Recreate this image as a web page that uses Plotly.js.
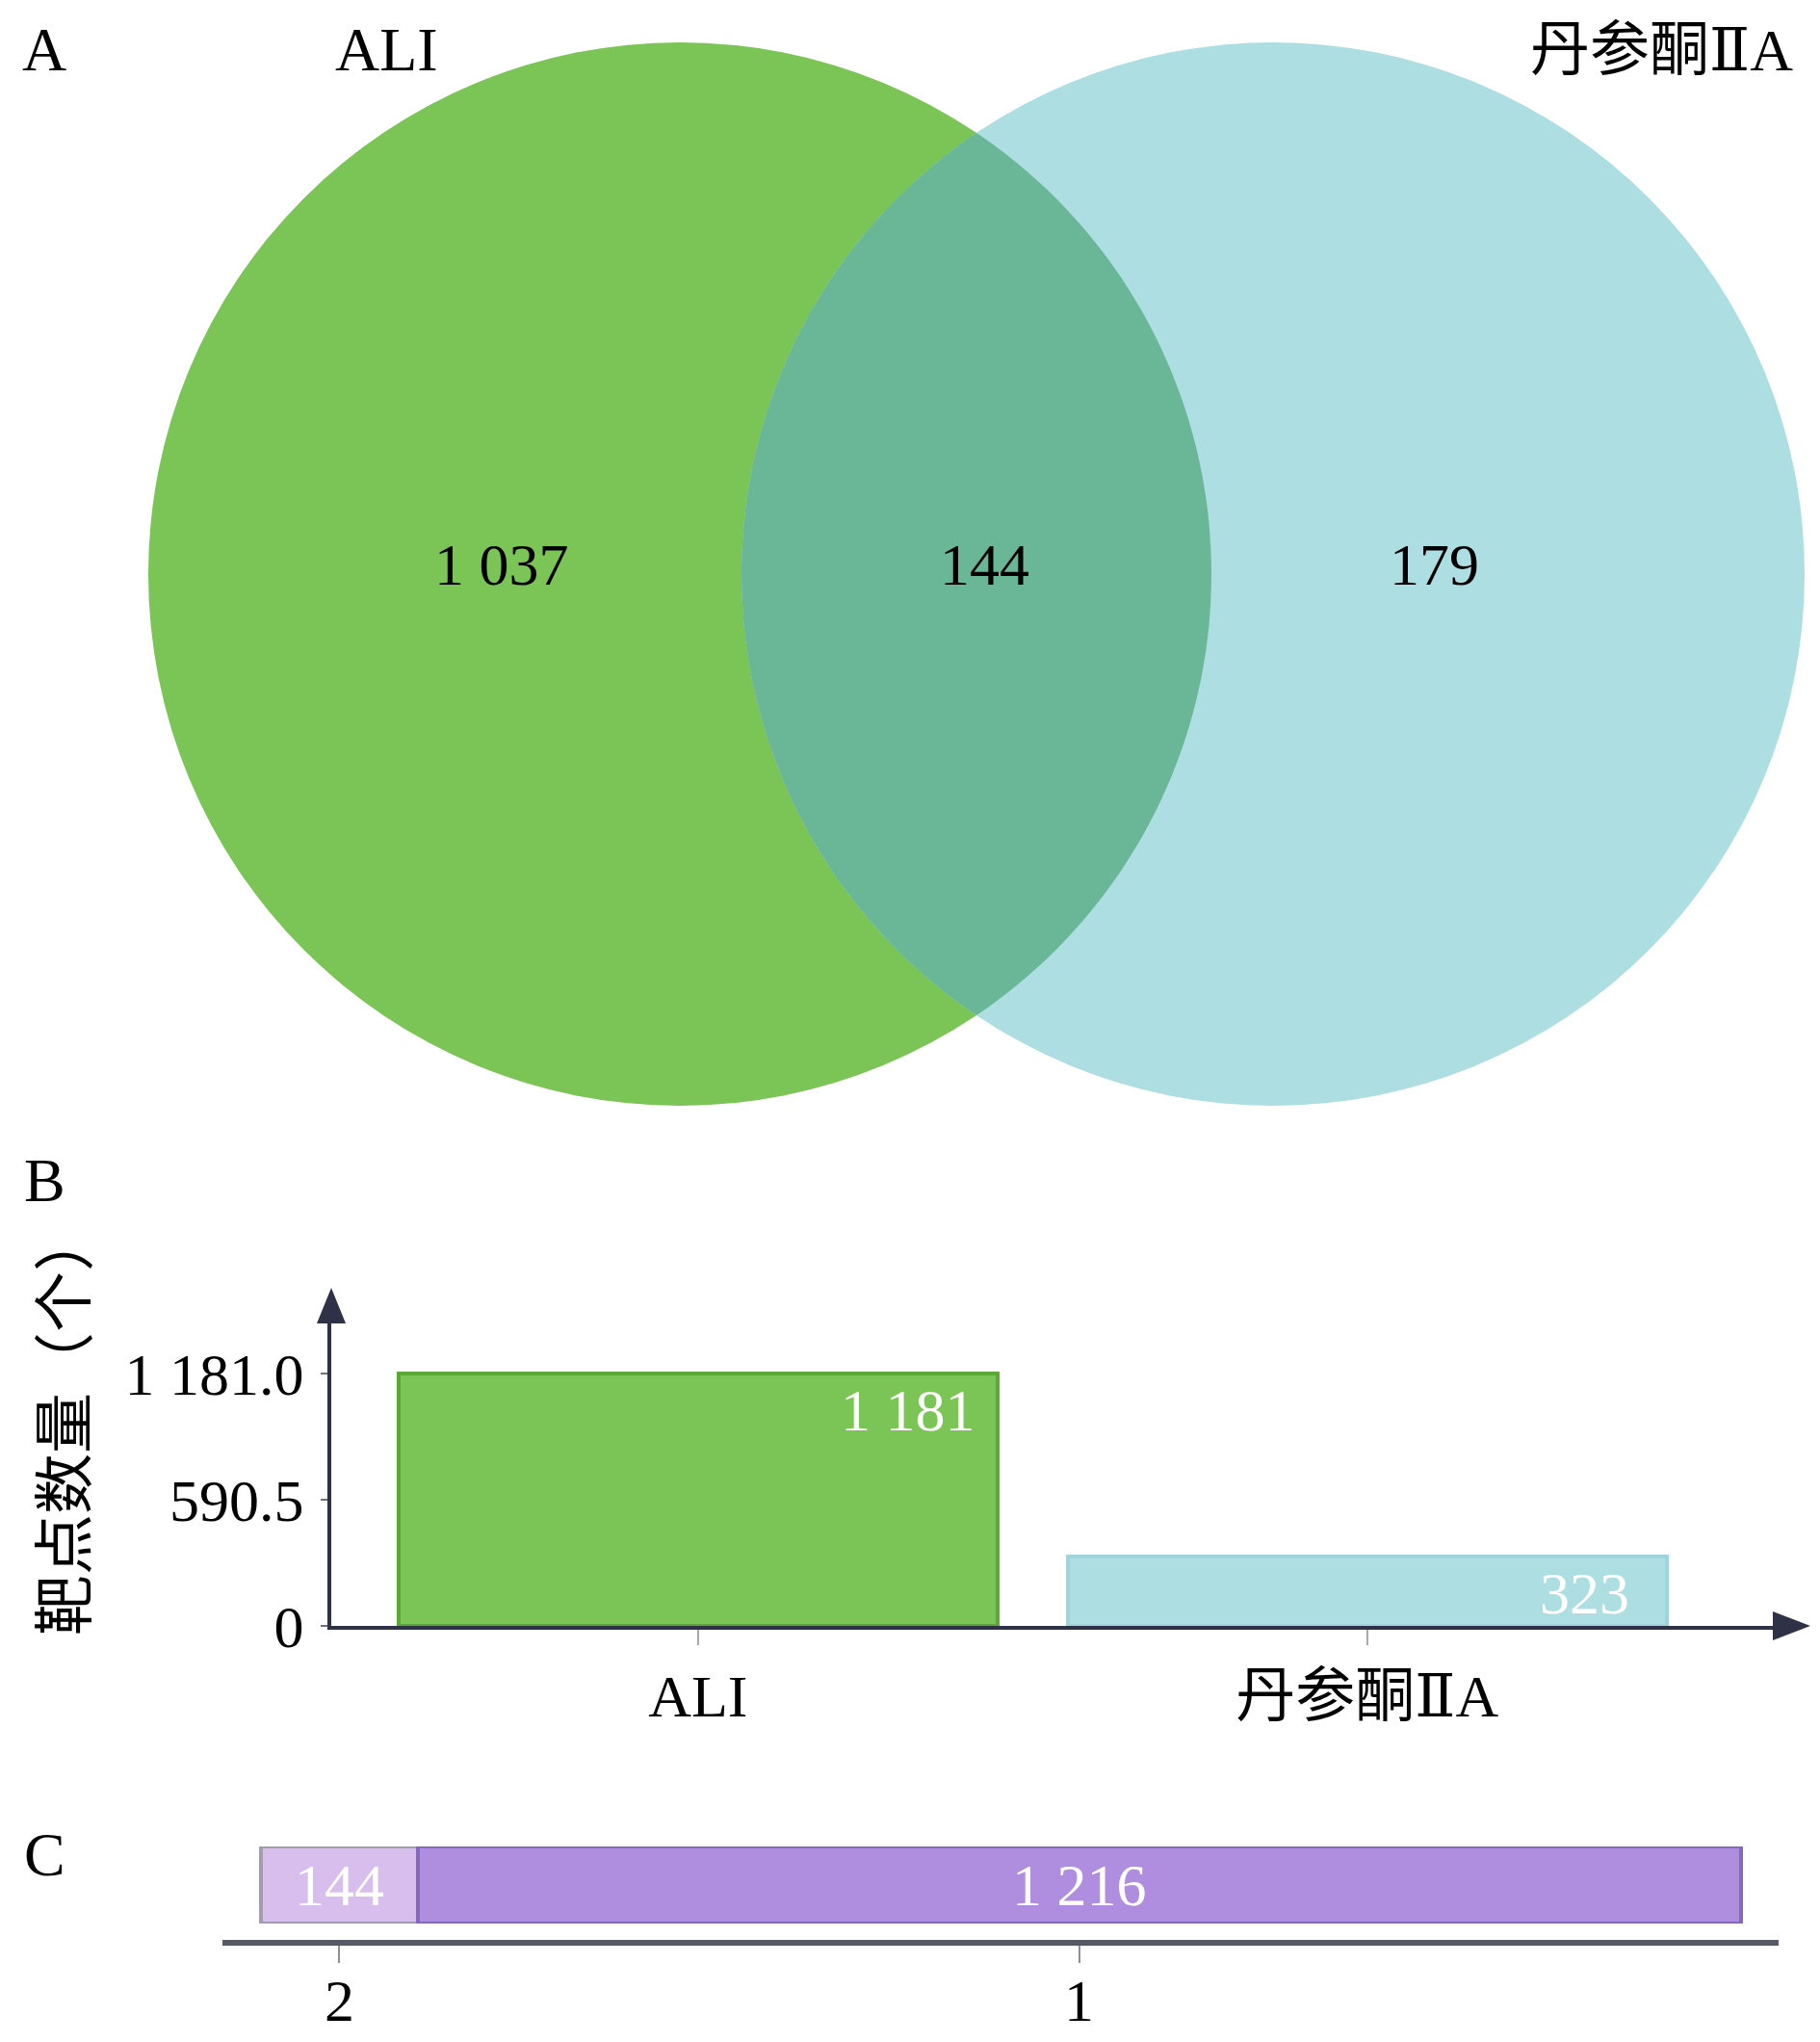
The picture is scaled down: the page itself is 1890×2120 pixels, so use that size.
<!DOCTYPE html>
<html>
<head>
<meta charset="utf-8">
<script src="https://cdn.plot.ly/plotly-3.0.1.min.js"></script>
<style>html,body{margin:0;padding:0;background:#fff;}#chart{width:1890px;height:2120px;}</style>
</head>
<body>
<div id="chart"></div>
<script>
// ---------- DATA ----------
var setNames = ['ALI', '丹参酮ⅡA'];
var vennCounts = [1037, 144, 179];          // ALI only, intersection, 丹参酮ⅡA only
var setTotals = [1181, 323];                // 靶点数量（个）
var yTickVals = [0, 590.5, 1181];
var yTickText = ['0', '590.5', '1 181.0'];
var yTitle = '靶点数量（个）';
var intersectionDegree = ['2', '1'];
var intersectionCounts = [144, 1216];
var panelLetters = ['A', 'B', 'C'];

// ---------- HELPERS ----------
var W = 1890, H = 2120;
function px(x) { return x / W; }
function py(y) { return 1 - y / H; }
function fmt(n) { return String(n).replace(/\B(?=(\d{3})+(?!\d))/g, ' '); }
var SERIF = '"Liberation Serif", "DejaVu Serif", "Noto Sans CJK SC", serif';
var CJK = '"Noto Sans CJK SC", "Liberation Serif", sans-serif';
var AXC = '#2f3246';

// ---------- COLOURS ----------
var cGreen = '#7AC555', cBlue = '#ACDEE2', cOverlap = '#69B797';
var cGreenLine = '#5BA838', cBlueLine = '#9ED4DB';
var cPurpleLight = '#D7BEEC', cPurple = '#AF8DDF';

// ---------- VENN GEOMETRY (layout, pixel axes x3/y3) ----------
var R = 552, cy = 596, cx1 = 706, cx2 = 1322;
var d = (cx2 - cx1) / 2;
var th = Math.acos(d / R);
var lens = [];
var N = 80, i;
for (i = 0; i <= N; i++) { // right arc of green circle
  var a = -th + 2 * th * i / N;
  lens.push([cx1 + R * Math.cos(a), cy + R * Math.sin(a)]);
}
for (i = 0; i <= N; i++) { // left arc of blue circle
  var b = th - 2 * th * i / N;
  lens.push([cx2 - R * Math.cos(b), cy + R * Math.sin(b)]);
}
var lensPath = 'M ' + lens.map(function (p) { return p[0].toFixed(1) + ' ' + p[1].toFixed(1); }).join(' L ') + ' Z';

var shapes = [
  {type: 'circle', xref: 'x3', yref: 'y3', x0: cx1 - R, x1: cx1 + R, y0: cy - R, y1: cy + R,
   fillcolor: cGreen, line: {width: 0}, layer: 'above'},
  {type: 'circle', xref: 'x3', yref: 'y3', x0: cx2 - R, x1: cx2 + R, y0: cy - R, y1: cy + R,
   fillcolor: cBlue, line: {width: 0}, layer: 'above'},
  {type: 'path', xref: 'x3', yref: 'y3', path: lensPath, fillcolor: cOverlap, line: {width: 0}, layer: 'above'},
  // axis arrow heads for panel B
  {type: 'path', xref: 'x3', yref: 'y3', path: 'M 329 1374 L 344 1337 L 359 1374 Z', fillcolor: AXC, line: {width: 0}, layer: 'above'},
  {type: 'path', xref: 'x3', yref: 'y3', path: 'M 1841 1673 L 1880 1688 L 1841 1703 Z', fillcolor: AXC, line: {width: 0}, layer: 'above'}
];

// ---------- ANNOTATIONS ----------
var ann = [];
function txt(t, x, y, size, opts) {
  var o = {text: t, xref: 'paper', yref: 'paper', x: px(x), y: py(y), showarrow: false,
    font: {family: SERIF, size: size, color: '#000'}, xanchor: 'center', yanchor: 'middle'};
  for (var k in opts) o[k] = opts[k];
  return o;
}
ann.push(txt(panelLetters[0], 21, 52, 64, {xanchor: 'left'}));
ann.push(txt(panelLetters[1], 23, 1225, 64, {xanchor: 'left'}));
ann.push(txt(panelLetters[2], 23, 1925, 64, {xanchor: 'left'}));
ann.push(txt(setNames[0], 401, 52, 64, {}));
ann.push(txt(setNames[1], 1864, 52, 62, {xanchor: 'right'}));
// venn counts
var vennPos = [[521, 586], [1022, 586], [1489, 586]];
for (i = 0; i < vennCounts.length; i++) {
  ann.push(txt(fmt(vennCounts[i]), vennPos[i][0], vennPos[i][1], 62, {}));
}
// y title
ann.push({text: yTitle, xref: 'paper', yref: 'paper', x: px(61), y: py(1478), textangle: -90,
  showarrow: false, font: {family: CJK, size: 63, color: '#000'}, xanchor: 'center', yanchor: 'middle'});
// bar value labels (panel B)
var barW = 0.895;
var labelShift = [-21, -37];
for (i = 0; i < setTotals.length; i++) {
  ann.push({text: fmt(setTotals[i]), xref: 'x', yref: 'y', x: i + barW / 2, y: setTotals[i],
    xanchor: 'right', yanchor: 'middle', xshift: labelShift[i], yshift: -38, showarrow: false,
    font: {family: SERIF, size: 62, color: '#ffffff'}});
}
// segment labels and tick labels (panel C)
var cum = 0, cTickVals = [];
for (i = 0; i < intersectionCounts.length; i++) {
  var mid = cum + intersectionCounts[i] / 2;
  cTickVals.push(mid);
  ann.push({text: fmt(intersectionCounts[i]), xref: 'x4', yref: 'y4', x: mid, y: 0,
    xanchor: 'center', yanchor: 'middle', showarrow: false,
    font: {family: SERIF, size: 62, color: '#ffffff'}});
  ann.push({text: intersectionDegree[i], xref: 'x4', yref: 'paper', x: mid, y: py(2077),
    xanchor: 'center', yanchor: 'middle', showarrow: false,
    font: {family: SERIF, size: 62, color: '#000'}});
  cum += intersectionCounts[i];
}

// ---------- TRACES ----------
var traces = [
  {type: 'scatter', x: [], y: [], xaxis: 'x3', yaxis: 'y3', hoverinfo: 'skip'},
  {type: 'bar', x: setNames, y: setTotals, xaxis: 'x', yaxis: 'y', width: barW,
   marker: {color: [cGreen, cBlue], line: {color: [cGreenLine, cBlueLine], width: 4}},
   textposition: 'none', hoverinfo: 'skip'},
  {type: 'bar', orientation: 'h', y: [0], x: [intersectionCounts[0]], xaxis: 'x4', yaxis: 'y4', width: 1,
   marker: {color: cPurpleLight, line: {color: '#A39BB0', width: 4}}, textposition: 'none', hoverinfo: 'skip'},
  {type: 'bar', orientation: 'h', y: [0], x: [intersectionCounts[1]], xaxis: 'x4', yaxis: 'y4', width: 1,
   marker: {color: cPurple, line: {color: '#8468BE', width: 4}}, textposition: 'none', hoverinfo: 'skip'}
];

var layout = {
  width: W, height: H, margin: {l: 0, r: 0, t: 0, b: 0, pad: 0},
  paper_bgcolor: '#ffffff', plot_bgcolor: 'rgba(0,0,0,0)',
  showlegend: false, barmode: 'stack',
  font: {family: SERIF, size: 62, color: '#000'},
  xaxis: {domain: [px(344), px(1843)], range: [-0.548, 1.609], type: 'category', anchor: 'y',
    showline: true, linecolor: AXC, linewidth: 4, ticks: 'outside', ticklen: 16, tickwidth: 2,
    tickcolor: '#a4a8b0', showgrid: false, zeroline: false, fixedrange: true,
    tickfont: {family: SERIF, size: 62, color: '#000'}, ticklabelstandoff: 0},
  yaxis: {domain: [py(1688), py(1372)], range: [0, 1427], anchor: 'x',
    showline: true, linecolor: AXC, linewidth: 4, ticks: 'outside', ticklen: 7, tickwidth: 2,
    tickcolor: '#6d7080', tickvals: yTickVals, ticktext: yTickText, showgrid: false, zeroline: false,
    fixedrange: true, tickfont: {family: SERIF, size: 62, color: '#000'}, ticklabelstandoff: 5},
  xaxis3: {domain: [0, 1], range: [0, W], visible: false, fixedrange: true, anchor: 'y3'},
  yaxis3: {domain: [0, 1], range: [H, 0], visible: false, fixedrange: true, anchor: 'x3'},
  xaxis4: {domain: [px(231), px(1847)], range: [-35.4, 1394.7], anchor: 'free', position: py(2017),
    showline: true, linecolor: '#555a66', linewidth: 6, ticks: 'outside', ticklen: 18, tickwidth: 2,
    tickcolor: '#8d9199', tickvals: cTickVals, showticklabels: false, showgrid: false,
    zeroline: false, fixedrange: true},
  yaxis4: {domain: [py(1997), py(1917)], range: [-0.5, 0.5], anchor: 'x4', visible: false, fixedrange: true},
  shapes: shapes,
  annotations: ann
};

Plotly.newPlot('chart', traces, layout, {staticPlot: true, displayModeBar: false});
</script>
</body>
</html>
